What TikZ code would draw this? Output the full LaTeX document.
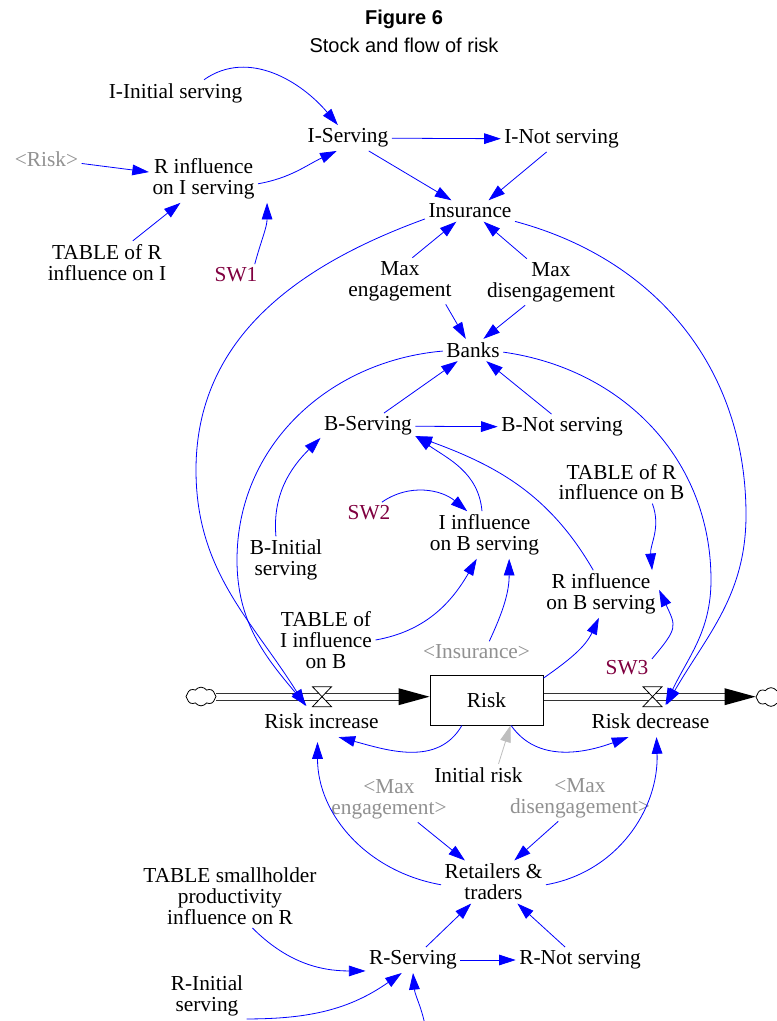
\documentclass[tikz,border=0pt]{standalone}
\usepackage{fontspec}
\setmainfont{Liberation Serif}
\newfontfamily\arialf{Liberation Sans}
\usetikzlibrary{arrows.meta,calc,shapes.symbols}
\definecolor{vblue}{RGB}{0,0,255}
\definecolor{swred}{RGB}{128,0,64}
\definecolor{ghostgray}{RGB}{145,145,145}
\definecolor{lightg}{RGB}{190,190,190}
\begin{document}
\begin{tikzpicture}[x=0.75pt,y=0.75pt,
  var/.style={font=\fontsize{16}{15.6}\selectfont, align=center, inner sep=2.5pt},
  ghost/.style={var, text=ghostgray},
  swv/.style={var, text=swred},
  stock/.style={var, draw=black, line width=0.75pt, minimum width=84.75pt, minimum height=37.5pt},
  lk/.style={draw=vblue, line width=0.6pt, -{Triangle[length=12.5pt,width=8pt]}},
  gk/.style={draw=lightg, line width=0.6pt, -{Triangle[length=12.5pt,width=8pt]}},
  pipe/.style={draw=black!80, line width=0.7pt},
  cloudy/.style={cloud, cloud puffs=8, cloud puff arc=110, draw=black, line width=0.6pt, minimum width=22.5pt, minimum height=14pt, inner sep=0pt},
  valve/.style={fill=white, draw=black, line width=0.6pt},
  ttl/.style={font=\arialf\fontsize{15}{18}\selectfont}
]
\path[use as bounding box, fill=white] (0,0) rectangle (776,-1021);

% titles
\node[ttl, font=\arialf\bfseries\fontsize{15}{18}\selectfont] (title) at (404,-19) {Figure 6};
\node[ttl] (subtitle) at (404,-45) {Stock and flow of risk};

% variables
\node[var] (iinit) at (175.5,-93) {I-Initial serving};
\node[var] (iserv) at (348,-138) {I-Serving};
\node[var] (inot) at (561.5,-139) {I-Not serving};
\node[ghost] (grisk) at (46.5,-159) {<Risk>};
\node[var] (rinfI) at (203.5,-179) {R influence\\on I serving};
\node[var] (ins) at (470,-211) {Insurance};
\node[var] (tabRI) at (107,-262.5) {TABLE of R\\influence on I};
\node[swv] (sw1) at (236,-275) {SW1};
\node[var] (maxe) at (400,-281) {Max\\engagement};
\node[var] (maxd) at (551,-282) {Max\\disengagement};
\node[var] (banks) at (473,-350) {Banks};
\node[var] (bserv) at (368,-426) {B-Serving};
\node[var] (bnot) at (562,-427) {B-Not serving};
\node[var] (tabRB) at (621.5,-482) {TABLE of R\\influence on B};
\node[swv] (sw2) at (369,-513) {SW2};
\node[var] (iinfB) at (484.5,-535) {I influence\\on B serving};
\node[var] (binit) at (286,-560) {B-Initial\\serving};
\node[var] (rinfB) at (601,-594) {R influence\\on B serving};
\node[var] (tabIB) at (326,-640) {TABLE of\\I influence\\on B};
\node[ghost] (gins) at (476.5,-652) {<Insurance>};
\node[swv] (sw3) at (627,-668) {SW3};
\node[stock] (risk) at (486.5,-700) {Risk};
\node[var] (rinc) at (321.5,-721) {Risk increase};
\node[var] (rdec) at (650.5,-721) {Risk decrease};
\node[var] (irisk) at (478.5,-775) {Initial risk};
\node[ghost] (gmaxe) at (389,-799) {<Max\\engagement>};
\node[ghost] (gmaxd) at (580,-798) {<Max\\disengagement>};
\node[var] (retail) at (493.5,-882) {Retailers \&\\traders};
\node[var] (tabSP) at (230,-896) {TABLE smallholder\\productivity\\influence on R};
\node[var] (rserv) at (413,-960) {R-Serving};
\node[var] (rnot) at (580,-960) {R-Not serving};
\node[var] (rinit) at (207,-996) {R-Initial\\serving};

% clouds and pipes
\node[cloudy] (cl) at (201,-696.5) {};
\node[cloudy] (cr) at (771,-697) {};
\coordinate (pinL) at ($(risk.west)+(0,3.3)$);
\coordinate (pout) at ($(risk.east)+(0,3.3)$);
\coordinate (pend) at (cr.west |- pout);
\draw[pipe] ($(cl.east |- pinL)+(0,3.3)$) -- ($(pinL)+(-30,3.3)$);
\draw[pipe] ($(cl.east |- pinL)+(0,-3.3)$) -- ($(pinL)+(-30,-3.3)$);
\fill[black] (pinL) -- ++(-31,8.5) -- ++(0,-17) -- cycle;
\draw[pipe] ($(pout)+(0,3.3)$) -- ($(pend)+(-30,3.3)$);
\draw[pipe] ($(pout)+(0,-3.3)$) -- ($(pend)+(-30,-3.3)$);
\fill[black] (pend) -- ++(-31,8.5) -- ++(0,-17) -- cycle;
\coordinate (vL) at (322,-696.7);
\coordinate (vR) at (652.5,-696.7);
\draw[valve] ($(vL)+(-9.5,10)$) -- ($(vL)+(9.5,10)$) -- ($(vL)+(-9.5,-10)$) -- ($(vL)+(9.5,-10)$) -- cycle;
\draw[valve] ($(vR)+(-9.5,10)$) -- ($(vR)+(9.5,10)$) -- ($(vR)+(-9.5,-10)$) -- ($(vR)+(9.5,-10)$) -- cycle;

% connectors: insurance block
\draw[lk] (iinit.25) to[out=35,in=130] (iserv.128);
\draw[lk] (iserv) -- (inot);
\draw[lk] (grisk) -- (rinfI);
\draw[lk] (rinfI.-5) to[out=10,in=205] (iserv.229);
\draw[lk] (tabRI.40) -- (rinfI.226);
\draw[lk] (sw1.30) to[out=75,in=-90] ($(rinfI.south east)+(9,0)$);
\draw[lk] (iserv.-32) -- (ins.150);
\draw[lk] (inot.221) -- (ins.30);
\draw[lk] (maxe.62) -- (ins.218);
\draw[lk] (maxd.136) -- (ins.-38);
\draw[lk] (maxe.-27) -- (banks.123);
\draw[lk] (maxd.222) -- (banks.47);

% big arcs to the flows
\draw[lk] (ins.190) to[out=200,in=90] (196,-470) to[out=-90,in=122] ($(rinc.north)+(-16,4)$);
\draw[lk] (banks.182) to[out=185,in=90] (237,-560) to[out=-90,in=130] ($(rinc.north)+(-15,4)$);
\draw[lk] (ins.-13) to[out=-15,in=90] (746,-515) to[out=-90,in=60] ($(rdec.north)+(16,5)$);
\draw[lk] (banks.-4) to[out=-8,in=90] (711,-580) to[out=-90,in=65] ($(rdec.north)+(15,5)$);

% banks block
\draw[lk] (bserv.39) -- (banks.216);
\draw[lk] (bnot.129) -- (banks.-40);
\draw[lk] (bserv) -- (bnot);
\draw[lk] (binit.113) to[out=95,in=225] (bserv.194);
\draw[lk] (iinfB.96) to[out=95,in=-35] (bserv.-12);
\draw[lk] (rinfB.108) to[out=120,in=-20] (bserv.-12);
\draw[lk] (sw2.40) to[out=35,in=140] (iinfB.126);
\draw[lk] (tabIB.0) to[out=10,in=240] (iinfB.252);
\draw[lk] (gins.40) to[out=65,in=-90] (iinfB.-44);
\draw[lk] (tabRB.-35) to[out=-70,in=95] (rinfB.25);
\draw[lk] (sw3.20) to[out=50,in=-65,looseness=1.5] (rinfB.4);
\draw[lk] (risk.21) to[out=35,in=245] (rinfB.265);

% risk stock
\draw[lk] (risk.226) to[out=240,in=-15] ($(rinc.south)+(17,-5)$);
\draw[lk] (risk.-46) to[out=-55,in=200] ($(rdec.south)+(-22,-5)$);
\draw[gk] ($(irisk.north)+(20,0)$) -- ($(risk.south)+(24,0)$);

% retailers block
\draw[lk] (gmaxe.-39) -- (retail.143);
\draw[lk] (gmaxd.227) -- (retail.46);
\draw[lk] (retail.183) to[out=170,in=-90] ($(rinc.south)+(-4,-10)$);
\draw[lk] (retail.-3) to[out=10,in=-88] ($(rdec.south)+(6,-5)$);
\draw[lk] (tabSP.-55) to[out=-45,in=180] (rserv.193);
\draw[lk] (rserv) -- (rnot);
\draw[lk] (rserv.45) -- (retail.224);
\draw[lk] (rnot.139) -- (retail.-42);
\draw[lk] (rinit.-30) to[out=0,in=215] (rserv.229);
\coordinate (bot) at (426,-1030);
\draw[lk] (bot) to[out=100,in=-85] (rserv.270);
\end{tikzpicture}
\end{document}
